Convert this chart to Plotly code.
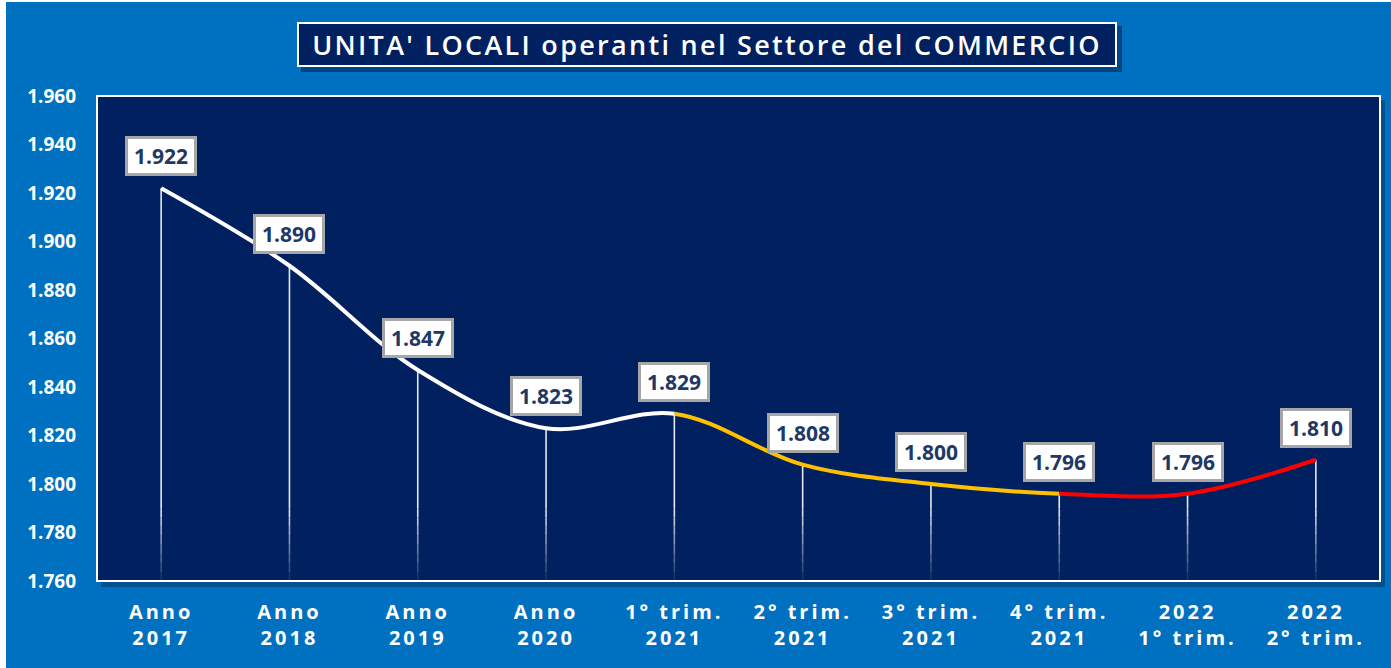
import plotly.graph_objects as go

# Unità locali del commercio (valori assoluti)
periods = ["Anno<br>2017", "Anno<br>2018", "Anno<br>2019", "Anno<br>2020",
           "1° trim.<br>2021", "2° trim.<br>2021", "3° trim.<br>2021",
           "4° trim.<br>2021", "2022<br>1° trim.", "2022<br>2° trim."]
units = [1922, 1890, 1847, 1823, 1829, 1808, 1800, 1796, 1796, 1810]
y_ticks = [1760, 1780, 1800, 1820, 1840, 1860, 1880, 1900, 1920, 1940, 1960]

BG_BLUE = "#0070C0"
NAVY = "#002060"
LABEL_NAVY = "#1F3864"
GOLD = "#FFC000"
RED = "#FF0000"

W, H = 1391, 668
ML, MR, MT, MB = 97, 11, 96, 87
pw, ph = W - ML - MR, H - MT - MB

idx = list(range(len(units)))
n = len(units)
x_lo, x_hi = -0.5, n - 0.5


def dom(v):
    """Fraction of the plot width at category position v."""
    return (v - x_lo) / (x_hi - x_lo)


def px_x(p):
    return (p - ML) / pw


def px_y(p):
    return (H - MB - p) / ph


fig = go.Figure()

# invisible trace that carries the main category axis
fig.add_trace(go.Scatter(x=idx, y=units, mode="markers",
                         marker=dict(size=1, opacity=0), hoverinfo="skip",
                         showlegend=False))

# the same smoothed curve drawn on three sub-axes, each clipped to its period
segments = [
    ("x4", x_lo, 4, "white"),
    ("x2", 4, 7, GOLD),
    ("x3", 7, x_hi, RED),
]
for ax, a, b, col in segments:
    fig.add_trace(go.Scatter(
        x=idx, y=units, xaxis=ax, yaxis="y", mode="lines",
        line=dict(color=col, width=4, shape="spline", smoothing=1, simplify=False),
        hoverinfo="skip", showlegend=False))

shapes = []
# outer white frame strips
shapes.append(dict(type="rect", xref="paper", yref="paper",
                   x0=px_x(-5), x1=px_x(6), y0=px_y(H + 5), y1=px_y(-5),
                   fillcolor="white", line=dict(width=0), layer="below"))
shapes.append(dict(type="rect", xref="paper", yref="paper",
                   x0=px_x(-5), x1=px_x(W + 5), y0=px_y(2), y1=px_y(-5),
                   fillcolor="white", line=dict(width=0), layer="below"))
# plot area shadow and panel
shapes.append(dict(type="rect", xref="paper", yref="paper",
                   x0=px_x(ML + 4), x1=px_x(ML + pw + 5), y0=px_y(H - MB + 6), y1=px_y(MT + 4),
                   fillcolor="rgba(0,20,60,0.35)", line=dict(width=0), layer="below"))
shapes.append(dict(type="rect", xref="paper", yref="paper",
                   x0=0, x1=1, y0=0, y1=1,
                   fillcolor=NAVY, line=dict(color="white", width=2), layer="below"))
# title box shadow
shapes.append(dict(type="rect", xref="paper", yref="paper",
                   x0=px_x(301), x1=px_x(1122), y0=px_y(72), y1=px_y(26),
                   fillcolor="rgba(0,20,60,0.45)", line=dict(width=0), layer="below"))

# drop lines from each point down to the axis floor, fading at the bottom
y_min, y_max = y_ticks[0], y_ticks[-1]
fade_top = y_min + 30
fade_steps = 8
for i, v in zip(idx, units):
    shapes.append(dict(type="line", xref="x", yref="y", x0=i, x1=i, y0=v, y1=fade_top,
                       line=dict(color="rgba(255,255,255,0.9)", width=1.6), layer="below"))
    for k in range(fade_steps):
        y0 = fade_top - (fade_top - y_min) * k / fade_steps
        y1 = fade_top - (fade_top - y_min) * (k + 1) / fade_steps
        alpha = 0.85 * (1 - (k + 0.5) / fade_steps) + 0.05
        shapes.append(dict(type="line", xref="x", yref="y", x0=i, x1=i, y0=y0, y1=y1,
                           line=dict(color=f"rgba(255,255,255,{alpha:.2f})", width=1.6),
                           layer="below"))

annotations = []
for i, v in zip(idx, units):
    annotations.append(dict(
        x=i, y=v, xref="x", yref="y", text=f"{v:,}".replace(",", "."),
        showarrow=False, yshift=32, xanchor="center", yanchor="middle",
        font=dict(family="Open Sans", size=21, color=LABEL_NAVY, weight="bold"),
        bgcolor="white", bordercolor="#A6A6A6", borderwidth=3, borderpad=3,
        width=60, height=28))

annotations.append(dict(
    x=px_x(707), y=px_y(44.5), xref="paper", yref="paper",
    text="UNITA' LOCALI operanti nel Settore del COMMERCIO",
    showarrow=False, xanchor="center", yanchor="middle",
    font=dict(family="Open Sans", size=27, color="white", weight=600),
    bgcolor=NAVY, bordercolor="white", borderwidth=2, borderpad=2,
    width=812, height=37))

fig.update_layout(
    width=W, height=H,
    margin=dict(l=ML, r=MR, t=MT, b=MB, pad=0),
    paper_bgcolor=BG_BLUE, plot_bgcolor="rgba(0,0,0,0)",
    separators=",.",
    showlegend=False,
    shapes=shapes, annotations=annotations,
    xaxis=dict(domain=[0, 1], range=[x_lo, x_hi], tickmode="array",
               tickvals=idx, ticktext=periods, showgrid=False, zeroline=False,
               showline=False, ticks="", ticklabelstandoff=17,
               tickfont=dict(family="Open Sans", size=20, color="white", weight="bold"),
               fixedrange=True),
    xaxis2=dict(domain=[dom(4), dom(7)], range=[4, 7], anchor="y", visible=False),
    xaxis3=dict(domain=[dom(7), 1], range=[7, x_hi], anchor="y", visible=False),
    xaxis4=dict(domain=[0, dom(4)], range=[x_lo, 4], anchor="y", visible=False),
    yaxis=dict(range=[y_min, y_max], tickmode="array", tickvals=y_ticks,
               tickformat=",d", showgrid=False, zeroline=False, showline=False,
               ticks="", ticklabelstandoff=20,
               tickfont=dict(family="Open Sans", size=19, color="white", weight="bold"),
               fixedrange=True),
)

# widen the letter spacing of the category labels and the title
post = """
document.querySelectorAll('.xtick text').forEach(function(t){t.style.letterSpacing='3px';});
document.querySelectorAll('.annotation-text').forEach(function(t){
  if (t.textContent.indexOf('UNITA') === 0) { t.style.letterSpacing='2.3px'; }
});
"""
fig.write_html("out.html", post_script=post)
